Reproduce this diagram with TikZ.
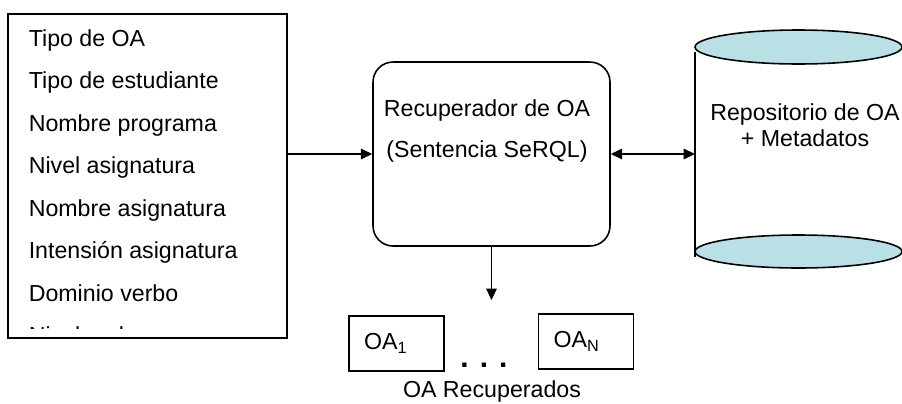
\documentclass[tikz,border=0pt]{standalone}
\usepackage{fontspec}
\setmainfont{Liberation Sans}
\usetikzlibrary{arrows.meta}
\definecolor{celeste}{RGB}{185,224,228}

\begin{document}
\begin{tikzpicture}[x=0.02cm,y=-0.02cm,line width=0.9pt,font=\fontsize{13.2}{15}\selectfont,
  flecha/.style={-{Triangle[length=6.5pt,width=6pt]}},
  dobleflecha/.style={{Triangle[length=6.5pt,width=6pt]}-{Triangle[length=6.5pt,width=6pt]}},
  oabox/.style={draw,minimum height=1.1cm,text width=1.3cm,inner xsep=0.3cm,align=left}]
\useasboundingbox (0,0) rectangle (902,403);

% lista de campos
\node[draw,minimum width=5.58cm,minimum height=6.48cm,inner sep=0pt] (campos) at (147.5,176) {};
\begin{scope}
\clip (10,16) rectangle (285,328);
\foreach \t [count=\k from 0] in {Tipo de OA,Tipo de estudiante,Nombre programa,Nivel asignatura,Nombre asignatura,Intensión asignatura,Dominio verbo,Nivel verbo}
  \node[anchor=base west,inner sep=0pt] (campo\k) at (28,{46+42.5*\k}) {\t};
\end{scope}

% recuperador
\node[draw,rounded corners=0.4cm,minimum width=4.74cm,minimum height=3.68cm] (recup) at (491.5,154) {};
\node[align=center,font=\fontsize{13.2}{23.8}\selectfont] (recuptxt) at (487,131) {Recuperador de OA\\(Sentencia SeRQL)};

% repositorio
\draw (695,52) -- (695,257);
\draw[fill=celeste] (798.5,47) ellipse [x radius=2.07cm,y radius=0.34cm];
\draw[fill=celeste] (798.5,251.5) ellipse [x radius=2.07cm,y radius=0.33cm];
\coordinate (repo) at (695,154);
\node[align=center,font=\fontsize{13.2}{14.8}\selectfont] (repotxt) at (805,125) {Repositorio de OA\\+ Metadatos};

% conexiones
\draw[flecha] (recup.west -| campos.east) -- (recup.west);
\draw[dobleflecha] (recup.east) -- (repo);
\coordinate (salida) at (491.5,300);
\draw[flecha] (recup.south) -- (salida);

% recuperados
\node[oabox] (oa1) at (396.5,343.5) {OA\textsubscript{1}};
\node[oabox] (oan) at (586,341.5) {OA\textsubscript{N}};
\node[anchor=base,font=\fontsize{17}{20}\selectfont\bfseries] (puntos) at (484,367.5) {. . .};
\node[anchor=base] (recuperados) at (492,397.5) {OA Recuperados};
\end{tikzpicture}
\end{document}
